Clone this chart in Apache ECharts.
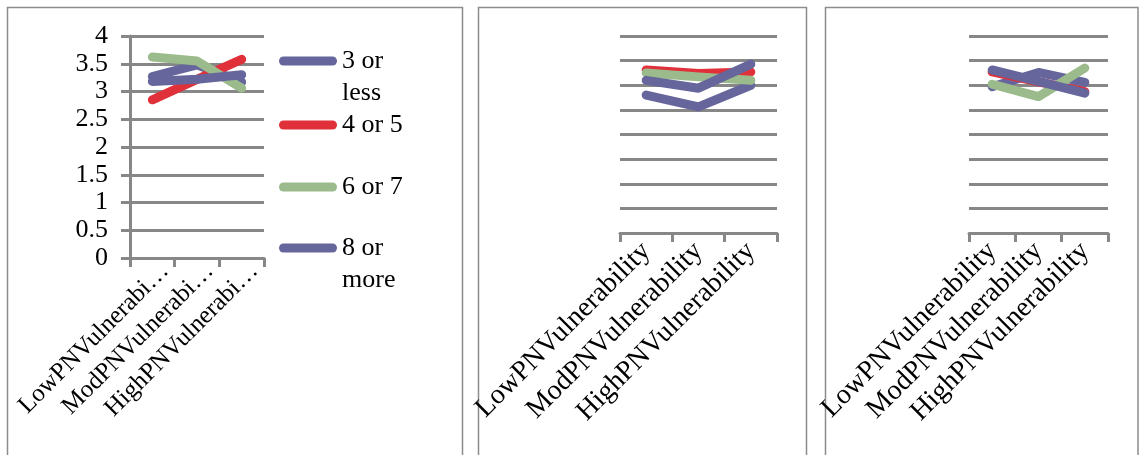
<!DOCTYPE html>
<html>
<head>
<meta charset="utf-8">
<script src="https://cdn.jsdelivr.net/npm/echarts@6/dist/echarts.min.js"></script>
<style>
html,body{margin:0;padding:0;background:#fff;}
#chart{width:1139px;height:455px;}
</style>
</head>
<body>
<div id="chart"></div>
<script>
// ---- data ----
const categories = ['LowPNVulnerability', 'ModPNVulnerability', 'HighPNVulnerability'];
const seriesNames = ['3 or less', '4 or 5', '6 or 7', '8 or more'];
const legendLabels = ['3 or\nless', '4 or 5', '6 or 7', '8 or\nmore'];
const yTickMin = 0, yTickMax = 4, yTickStep = 0.5;

// panel 1
const p1_3orLess = [3.27, 3.48, 3.17];
const p1_4or5 = [2.85, 3.22, 3.58];
const p1_6or7 = [3.62, 3.55, 3.06];
const p1_8orMore = [3.18, 3.22, 3.30];
// panel 2
const p2_3orLess = [2.80, 2.56, 3.00];
const p2_4or5 = [3.31, 3.24, 3.27];
const p2_6or7 = [3.25, 3.17, 3.10];
const p2_8orMore = [3.10, 2.94, 3.43];
// panel 3
const p3_3orLess = [2.97, 3.26, 3.06];
const p3_4or5 = [3.27, 3.07, 2.87];
const p3_6or7 = [3.02, 2.77, 3.35];
const p3_8orMore = [3.31, 3.08, 2.84];

const panels = [
  [p1_3orLess, p1_4or5, p1_6or7, p1_8orMore],
  [p2_3orLess, p2_4or5, p2_6or7, p2_8orMore],
  [p3_3orLess, p3_4or5, p3_6or7, p3_8orMore]
];

// ---- style ----
const colors = ['#66669c', '#e0303a', '#9cbb8c', '#66669c'];
const gridGray = '#878787';
const serif = '"Liberation Serif", "DejaVu Serif", serif';

const chart = echarts.init(document.getElementById('chart'), null, {renderer: 'canvas'});

const grids = [
  {left: 130, top: 36, width: 134, height: 222, outerBoundsMode: 'none', containLabel: false},
  {left: 620, top: 36, width: 157, height: 197, outerBoundsMode: 'none', containLabel: false},
  {left: 969, top: 36, width: 139, height: 197, outerBoundsMode: 'none', containLabel: false}
];

const xAxes = grids.map((g, i) => ({
  type: 'category',
  gridIndex: i,
  data: categories,
  boundaryGap: true,
  axisLine: {show: true, lineStyle: {color: gridGray, width: 3}},
  axisTick: {show: true, length: 9, lineStyle: {color: gridGray, width: 3}},
  axisLabel: {
    rotate: 45,
    interval: 0,
    margin: i === 0 ? 22 : 14,
    fontFamily: serif,
    fontSize: i === 0 ? 25 : 28,
    color: '#000',
    width: i === 0 ? 208 : 400,
    overflow: 'truncate',
    ellipsis: '…',
    padding: i === 0 ? [0, -18, 0, 0] : 0,
    hideOverlap: false
  },
  splitLine: {show: false}
}));

const yAxes = grids.map((g, i) => ({
  type: 'value',
  gridIndex: i,
  min: yTickMin,
  max: yTickMax,
  interval: yTickStep,
  axisLine: {show: i === 0, lineStyle: {color: gridGray, width: 3}},
  axisTick: {show: i === 0, length: 9, lineStyle: {color: gridGray, width: 3}},
  axisLabel: {
    show: i === 0,
    margin: 22,
    fontFamily: serif,
    fontSize: 26,
    color: '#000'
  },
  splitLine: {show: true, lineStyle: {color: gridGray, width: 3}}
}));

const series = [];
panels.forEach((vals, p) => {
  vals.forEach((arr, k) => {
    series.push({
      type: 'line',
      name: seriesNames[k],
      xAxisIndex: p,
      yAxisIndex: p,
      data: arr,
      showSymbol: false,
      symbol: 'none',
      color: colors[k],
      lineStyle: {color: colors[k], width: 9, cap: 'round', join: 'round'},
      emphasis: {disabled: true},
      silent: true,
      animation: false
    });
  });
});

const iconPath = 'path://M4.5,0L53.5,0A4.5,4.5,0,0,1,53.5,9L4.5,9A4.5,4.5,0,0,1,4.5,0Z';
const legendCenters = [61, 125, 187, 248];
const legends = seriesNames.map((nm, k) => {
  const twoLine = legendLabels[k].indexOf('\n') >= 0;
  // a blank leading line keeps the first text line level with the icon
  const shown = twoLine ? ' \n' + legendLabels[k] : legendLabels[k];
  return {
    data: [nm],
    orient: 'vertical',
    left: 279,
    top: legendCenters[k] - (twoLine ? 48 : 16),
    padding: 0,
    itemWidth: 58,
    itemHeight: 9,
    icon: iconPath,
    selectedMode: false,
    formatter: () => shown,
    textStyle: {
      fontFamily: serif,
      fontSize: 26,
      lineHeight: 32,
      color: '#000'
    }
  };
});

const borderStyle = {stroke: '#8c8c8c', fill: 'none', lineWidth: 1.5};
const option = {
  animation: false,
  backgroundColor: '#fff',
  grid: grids,
  xAxis: xAxes,
  yAxis: yAxes,
  legend: legends,
  series: series,
  graphic: [
    {type: 'rect', shape: {x: 7.5, y: 7.5, width: 455, height: 470}, style: borderStyle, silent: true, z: -1},
    {type: 'rect', shape: {x: 478.5, y: 7.5, width: 328, height: 470}, style: borderStyle, silent: true, z: -1},
    {type: 'rect', shape: {x: 825.5, y: 7.5, width: 312.5, height: 470}, style: borderStyle, silent: true, z: -1}
  ]
};
chart.setOption(option);
</script>
</body>
</html>
